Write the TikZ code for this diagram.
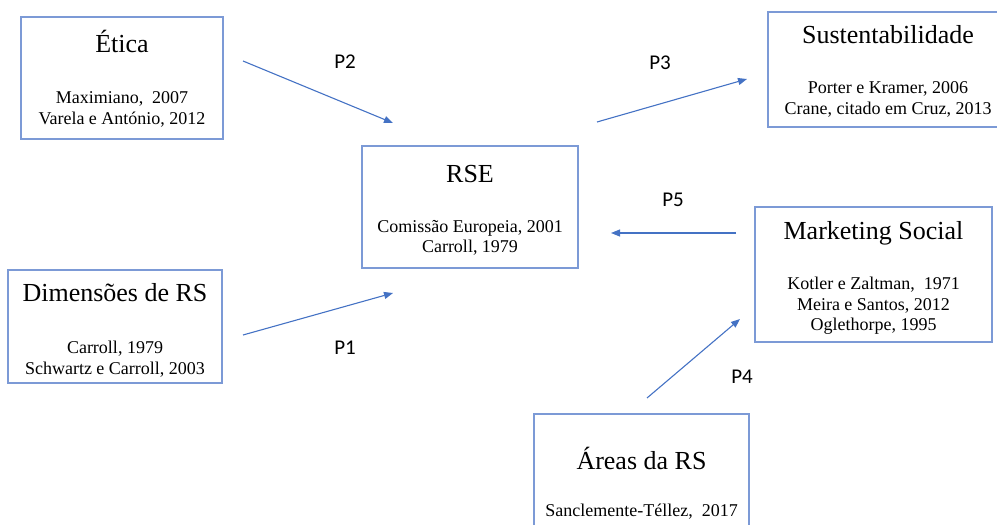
\documentclass[tikz,border=0pt]{standalone}
\usepackage{fontspec}
\setmainfont{Liberation Serif}
\newfontfamily\calibri{Carlito}
\usetikzlibrary{arrows.meta}
\definecolor{borda}{RGB}{124,154,214}
\definecolor{azulseta}{RGB}{68,114,196}
\begin{document}
\begin{tikzpicture}[x=1pt,y=1pt,
caixa/.style={draw=borda,line width=1.1pt,inner sep=0pt},
titulo/.style={font=\fontsize{26}{30}\selectfont,anchor=base,inner sep=0pt},
refs/.style={font=\fontsize{18}{20.5}\selectfont,align=center,inner sep=0pt},
ligacao/.style={draw=azulseta,line width=1.1pt,-{Triangle[length=9pt,width=7pt]}},
rotulo/.style={font=\calibri\fontsize{21}{24}\selectfont,inner sep=0pt}]
\clip (0,0) rectangle (997,-525);
\node[caixa,minimum width=202pt,minimum height=122pt] (etica) at (122,-78) {};
\node[titulo] (eticaT) at (122,-52) {Ética};
\node[refs] (eticaR) at (122,-109.5) {Maximiano,\ \ 2007\\Varela e António, 2012};
\node[caixa,minimum width=240pt,minimum height=115pt] (sust) at (888,-69.5) {};
\node[titulo] (sustT) at (888,-43) {Sustentabilidade};
\node[refs] (sustR) at (888,-99.5) {Porter e Kramer,\ 2006\\Crane, citado em Cruz, 2013};
\node[caixa,minimum width=216pt,minimum height=122pt] (rse) at (470,-207) {};
\node[titulo] (rseT) at (470,-182) {RSE};
\node[refs] (rseR) at (470,-238) {Comissão Europeia, 2001\\Carroll, 1979};
\node[caixa,minimum width=237pt,minimum height=135pt] (mkt) at (873.5,-274.5) {};
\node[titulo] (mktT) at (873.5,-239) {Marketing Social};
\node[refs] (mktR) at (873.5,-306) {Kotler e Zaltman,\ \ 1971\\Meira e Santos, 2012\\Oglethorpe, 1995};
\node[caixa,minimum width=214pt,minimum height=113pt] (dim) at (115,-326.5) {};
\node[titulo] (dimT) at (115,-301) {Dimensões de RS};
\node[refs] (dimR) at (115,-359) {Carroll, 1979\\Schwartz e Carroll, 2003};
\node[caixa,minimum width=215pt,minimum height=132pt] (areas) at (641.5,-480) {};
\node[titulo] (areasT) at (641.5,-469) {Áreas da RS};
\node[refs,anchor=base] (areasR) at (641.5,-516) {Sanclemente-Téllez,\ \ 2017};
\coordinate (p1a) at (243,-335); \coordinate (p1b) at (393,-293);
\coordinate (p2a) at (243,-61); \coordinate (p2b) at (393,-123);
\coordinate (p3a) at (597,-122); \coordinate (p3b) at (747,-79);
\coordinate (p4a) at (647,-398); \coordinate (p4b) at (740,-319);
\coordinate (p5a) at (736,-233); \coordinate (p5b) at (611,-233);
\foreach \n in {1,...,5} \draw[ligacao] (p\n a) -- (p\n b);
\foreach \n/\x/\y in {1/345/348,2/345/62,3/660/63,4/742/377,5/673/200}
\node[rotulo] (P\n) at (\x,-\y) {P\n};
\end{tikzpicture}
\end{document}
